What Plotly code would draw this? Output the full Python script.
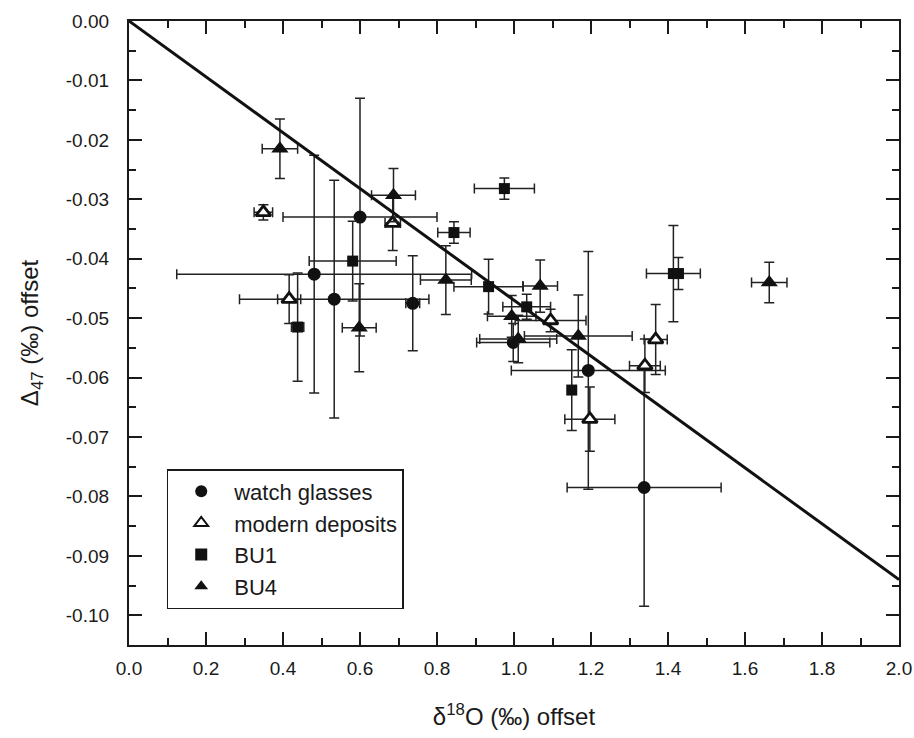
import plotly.graph_objects as go

# ---------------- data ----------------
wg_x = [0.481, 0.533, 0.600, 0.737, 0.998, 1.193, 1.338]
wg_y = [-0.0426, -0.0468, -0.0330, -0.0475, -0.0541, -0.0588, -0.0785]
wg_ex_plus = [0.409, 0.246, 0.200, 0.018, 0.095, 0.200, 0.200]
wg_ex_minus = [0.357, 0.246, 0.200, 0.018, 0.095, 0.200, 0.200]
wg_ey = [0.0200, 0.0200, 0.0200, 0.0080, 0.0032, 0.0200, 0.0200]

md_x = [0.349, 0.416, 0.685, 1.095, 1.197, 1.340, 1.368]
md_y = [-0.0322, -0.0468, -0.0340, -0.0504, -0.0670, -0.0580, -0.0536]
md_ex = [0.024, 0.030, 0.020, 0.092, 0.065, 0.040, 0.030]
md_ey = [0.0013, 0.0041, 0.0046, 0.0019, 0.0054, 0.0045, 0.0059]

bu1_x = [0.438, 0.581, 0.844, 0.934, 0.975, 1.033, 1.150, 1.414, 1.427]
bu1_y = [-0.0515, -0.0404, -0.0356, -0.0447, -0.0282, -0.0481, -0.0621, -0.0425, -0.0425]
bu1_ex = [0.016, 0.113, 0.042, 0.090, 0.078, 0.062, 0.008, 0.070, 0.012]
bu1_ey = [0.0091, 0.0067, 0.0018, 0.0046, 0.0018, 0.0021, 0.0068, 0.0081, 0.0027]

bu4_x = [0.392, 0.598, 0.687, 0.823, 0.994, 1.011, 1.068, 1.167, 1.663]
bu4_y = [-0.0215, -0.0516, -0.0293, -0.0436, -0.0497, -0.0535, -0.0446, -0.0530, -0.0440]
bu4_ex = [0.046, 0.044, 0.057, 0.066, 0.063, 0.100, 0.045, 0.140, 0.046]
bu4_ey = [0.0050, 0.0074, 0.0045, 0.0058, 0.0035, 0.0040, 0.0044, 0.0069, 0.0034]

fit_x = [0.0, 2.0]
fit_y = [0.0, -0.094]

x_ticks = [0.0, 0.2, 0.4, 0.6, 0.8, 1.0, 1.2, 1.4, 1.6, 1.8, 2.0]
y_ticks = [0.00, -0.01, -0.02, -0.03, -0.04, -0.05, -0.06, -0.07, -0.08, -0.09, -0.10]
x_tick_text = [f"{v:.1f}" for v in x_ticks]
y_tick_text = [f"{v:.2f}".replace("-0.00", "0.00") for v in y_ticks]

# ---------------- styles ----------------
FONT = "Liberation Sans, Arial, sans-serif"
INK = "#1a1a1a"
EB = dict(color="#222222", thickness=1.5, width=5)


def err(arr, arrminus=None):
    d = dict(type="data", array=arr, visible=True, **EB)
    if arrminus is not None:
        d["symmetric"] = False
        d["arrayminus"] = arrminus
    return d


fig = go.Figure()

fig.add_trace(go.Scatter(
    x=wg_x, y=wg_y, mode="markers", name="watch glasses",
    marker=dict(symbol="circle", size=13, color="#111111"),
    error_x=err(wg_ex_plus, wg_ex_minus), error_y=err(wg_ey)))

fig.add_trace(go.Scatter(
    x=md_x, y=md_y, mode="markers", name="modern deposits",
    marker=dict(symbol="triangle-up", size=13, color="white",
                line=dict(color="#111111", width=2.8)),
    error_x=err(md_ex), error_y=err(md_ey)))

fig.add_trace(go.Scatter(
    x=bu1_x, y=bu1_y, mode="markers", name="BU1",
    marker=dict(symbol="square", size=11, color="#111111"),
    error_x=err(bu1_ex), error_y=err(bu1_ey)))

fig.add_trace(go.Scatter(
    x=bu4_x, y=bu4_y, mode="markers", name="BU4",
    marker=dict(symbol="triangle-up", size=15, color="#111111"),
    error_x=err(bu4_ex), error_y=err(bu4_ey)))

fig.add_trace(go.Scatter(
    x=fit_x, y=fit_y, mode="lines", showlegend=False,
    line=dict(color="#111111", width=3)))

axis_common = dict(
    showline=True, linecolor=INK, linewidth=2.2, mirror="ticks",
    ticks="inside", ticklen=13, tickwidth=2, tickcolor=INK,
    showgrid=False, zeroline=False, automargin=False,
    tickfont=dict(family=FONT, size=19, color=INK),
)

fig.update_layout(
    width=914, height=738,
    margin=dict(l=129, r=15, t=21, b=93),
    paper_bgcolor="white", plot_bgcolor="white",
    font=dict(family=FONT, color=INK),
    xaxis=dict(
        range=[0, 2.0], tickmode="array", tickvals=x_ticks, ticktext=x_tick_text,
        minor=dict(ticks="inside", ticklen=7, tickwidth=2, tickcolor=INK, dtick=0.1),
        title=dict(text="δ<sup>18</sup>O (‰) offset", font=dict(family=FONT, size=24, color=INK),
                   standoff=30),
        ticklabelstandoff=5,
        **axis_common),
    yaxis=dict(
        range=[-0.105, 0], tickmode="array", tickvals=y_ticks, ticktext=y_tick_text,
        minor=dict(ticks="inside", ticklen=7, tickwidth=2, tickcolor=INK, dtick=0.005,
                   tick0=0),
        title=dict(text="Δ<sub>47</sub> (‰) offset", font=dict(family=FONT, size=24, color=INK),
                   standoff=20),
        ticklabelstandoff=14,
        **axis_common),
    legend=dict(
        x=0.049, y=0.282, xanchor="left", yanchor="top",
        bordercolor=INK, borderwidth=1.5, bgcolor="white",
        font=dict(family=FONT, size=22, color=INK),
        itemsizing="constant", itemwidth=56,
        entrywidth=258, entrywidthmode="pixels",
    ),
)

fig.write_html("out.html")
